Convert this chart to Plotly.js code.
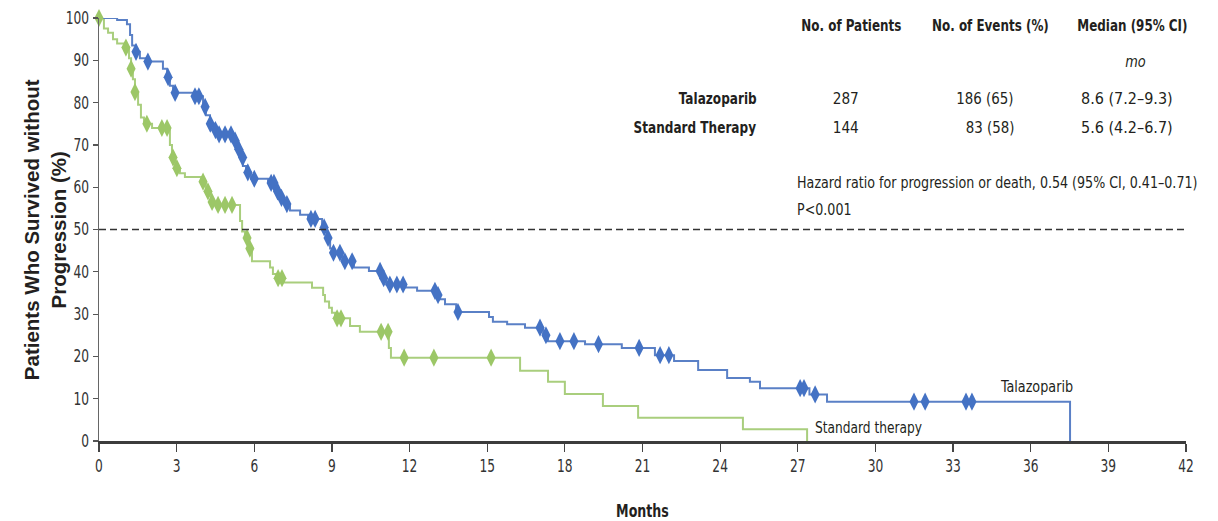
<!DOCTYPE html>
<html>
<head>
<meta charset="utf-8">
<script src="https://cdn.plot.ly/plotly-3.0.1.min.js"></script>
<style>
  html, body { margin: 0; padding: 0; background: #fff; }
  #chart { width: 1218px; height: 521px; }
</style>
</head>
<body>
<div id="chart"></div>
<script>
// Kaplan-Meier progression-free survival, Talazoparib vs standard therapy
const talaTime = [0, 0.70, 1.08, 1.20, 1.28, 1.43, 1.58, 1.82, 2.47, 2.63, 2.74, 2.86, 3.63, 4.02, 4.13, 4.29, 4.44, 4.60,
  5.20, 5.33, 5.45, 5.56, 5.68, 5.87, 6.53, 6.84, 7.00, 7.15, 7.38, 7.77, 8.08, 8.62, 8.80, 8.93, 9.04, 9.40, 9.85,
  10.43, 10.94, 11.10, 11.85, 12.29, 13.00, 13.15, 13.37, 13.80, 15.07, 15.22, 15.77, 16.46, 17.16, 17.35, 18.78,
  20.20, 21.48, 22.22, 23.15, 24.27, 25.15, 25.54, 27.45, 28.13, 37.52];
const talaSurv = [100, 99.5, 98.5, 96, 93.5, 92, 90.5, 89.7, 88, 86, 84, 82.3, 81.5, 79, 77, 75, 73.5, 72.5,
  71, 69, 67, 65, 63.5, 62, 61, 59, 57.5, 56, 54.5, 53.5, 52.5, 50.5, 48, 45.5, 44.5, 42.5, 41,
  40.2, 38.5, 37, 36.3, 35.5, 34.5, 33.5, 32.3, 30.5, 29.3, 28.2, 27.6, 26.8, 25, 23.6, 22.9,
  22.0, 20.3, 18.9, 16.8, 14.9, 14.0, 12.5, 11.0, 9.3, 0];
const talaCensored = [1.43, 1.89, 2.67, 2.94, 3.71, 3.86, 4.10, 4.30, 4.50, 4.64, 4.87, 5.10, 5.26, 5.40, 5.55, 5.75,
  6.00, 6.65, 6.76, 6.90, 7.05, 7.26, 8.19, 8.35, 8.70, 8.85, 9.06, 9.31, 9.50, 9.78, 10.86, 11.00, 11.24, 11.51,
  11.75, 12.98, 13.10, 13.87, 17.04, 17.27, 17.81, 18.35, 19.30, 20.87, 21.68, 22.02, 27.09, 27.24, 27.67,
  31.49, 31.92, 33.50, 33.73];

const stdTime = [0, 0.19, 0.35, 0.54, 0.70, 0.97, 1.16, 1.24, 1.31, 1.39, 1.51, 1.62, 1.74, 2.05, 2.74, 2.82, 2.94,
  3.13, 3.32, 3.94, 4.13, 4.33, 4.48, 5.45, 5.53, 5.64, 5.80, 5.91, 6.61, 6.72, 6.84, 7.15, 8.23, 8.66, 8.73, 8.89,
  9.00, 9.12, 9.70, 10.08, 11.20, 11.28, 16.27, 17.35, 18.00, 19.47, 20.83, 24.88, 27.36];
const stdSurv = [100, 97.5, 96.5, 95, 94, 93, 90.5, 88, 85.5, 82.5, 79.5, 76.5, 75, 74, 70, 67, 64.5,
  63.3, 62.4, 61.3, 59, 56.5, 55.8, 52, 49.5, 48, 45.5, 42.5, 41, 39.5, 38.5, 37.5, 36.2, 34.5, 33, 31.5,
  30.3, 29, 27.2, 25.8, 22, 19.7, 16.6, 14.0, 11.1, 8.3, 5.5, 2.8, 0];
const stdCensored = [0, 1.04, 1.24, 1.39, 1.85, 2.43, 2.63, 2.86, 3.01, 4.02, 4.21, 4.37, 4.60, 4.87, 5.14,
  5.72, 5.83, 6.92, 7.07, 9.20, 9.35, 10.90, 11.17, 11.79, 12.94, 15.15];

const xTicks = [0, 3, 6, 9, 12, 15, 18, 21, 24, 27, 30, 33, 36, 39, 42];
const yTicks = [0, 10, 20, 30, 40, 50, 60, 70, 80, 90, 100];

// Summary table
const groups = ['Talazoparib', 'Standard Therapy'];
const patients = ['287', '144'];
const events = ['186 (65)', '83 (58)'];
const medians = ['8.6 (7.2–9.3)', '5.6 (4.2–6.7)'];
const tableHeaders = ['No. of Patients', 'No. of Events (%)', 'Median (95% CI)'];
const hazardText = 'Hazard ratio for progression or death, 0.54 (95% CI, 0.41–0.71)';
const pText = 'P<0.001';

// survival level of a step curve at time t
function levelAt(times, surv, t) {
  let v = surv[0];
  for (let i = 0; i < times.length; i++) {
    if (times[i] <= t) v = surv[i]; else break;
  }
  return v;
}

const BLUE_LINE = '#5a80c6', BLUE_MARK = '#4472c4';
const GREEN_LINE = '#a9ce7d', GREEN_MARK = '#9cc767';
const NARROW = '"Liberation Sans Narrow", "DejaVu Sans Condensed", "Arial Narrow", sans-serif';
const TEXT = '#231f20';

const traces = [
  { x: stdTime, y: stdSurv, mode: 'lines', line: { shape: 'hv', color: GREEN_LINE, width: 2 }, hoverinfo: 'skip' },
  { x: talaTime, y: talaSurv, mode: 'lines', line: { shape: 'hv', color: BLUE_LINE, width: 2 }, hoverinfo: 'skip' },
  { x: stdCensored, y: stdCensored.map(t => levelAt(stdTime, stdSurv, t)), mode: 'markers',
    marker: { symbol: 'diamond-tall', size: 13, color: GREEN_MARK }, cliponaxis: false },
  { x: talaCensored, y: talaCensored.map(t => levelAt(talaTime, talaSurv, t)), mode: 'markers',
    marker: { symbol: 'diamond-tall', size: 13, color: BLUE_MARK }, cliponaxis: false }
];

// annotations; squash[i] narrows the i-th text horizontally (condensed typeface look)
const ann = [];
const squash = [];
function addText(a, sx) { a.showarrow = false; ann.push(a); squash.push(sx || null); }

const hdrX = [29.07, 34.43, 39.95];
tableHeaders.forEach((h, i) => addText({ x: hdrX[i], y: 98.3, text: h, xanchor: 'center', yanchor: 'middle',
  font: { family: NARROW, size: 16, color: TEXT, weight: 'bold' } }, 0.83));
addText({ x: 40.04, y: 89.6, text: '<i>mo</i>', xanchor: 'center', yanchor: 'middle', font: { family: NARROW, size: 16, color: TEXT } }, 0.9);
const rowY = [80.9, 74.2];
groups.forEach((g, i) => {
  addText({ x: 25.5, y: rowY[i], text: g, xanchor: 'right', yanchor: 'middle', font: { family: NARROW, size: 16, color: TEXT, weight: 'bold' } }, 0.84);
  addText({ x: 28.86, y: rowY[i], text: patients[i], xanchor: 'center', yanchor: 'middle', font: { family: NARROW, size: 16, color: TEXT } }, 0.95);
  addText({ x: 35.44, y: rowY[i], text: events[i], xanchor: 'right', yanchor: 'middle', font: { family: NARROW, size: 16, color: TEXT } }, 0.93);
  addText({ x: 39.72, y: rowY[i], text: medians[i], xanchor: 'center', yanchor: 'middle', font: { family: NARROW, size: 16, color: TEXT } }, 1.0);
});
addText({ x: 26.9, y: 61.2, text: hazardText, xanchor: 'left', yanchor: 'middle', font: { family: NARROW, size: 16, color: TEXT } }, 0.88);
addText({ x: 26.9, y: 54.8, text: pText, xanchor: 'left', yanchor: 'middle', font: { family: NARROW, size: 16, color: TEXT } }, 0.88);
// curve labels
addText({ x: 34.74, y: 13.0, text: 'Talazoparib', xanchor: 'left', yanchor: 'middle', font: { family: NARROW, size: 16, color: TEXT } }, 0.89);
addText({ x: 27.59, y: 3.3, text: 'Standard therapy', xanchor: 'left', yanchor: 'middle', font: { family: NARROW, size: 16, color: TEXT } }, 0.85);
// y-axis title
addText({ xref: 'paper', yref: 'paper', x: -0.05, y: 0.5, textangle: -90, xanchor: 'center', yanchor: 'middle',
  text: 'Patients Who Survived without<br>Progression (%)',
  font: { family: '"Liberation Sans", Arial, sans-serif', size: 20.5, color: TEXT, weight: 'bold' } });

const layout = {
  width: 1218, height: 521,
  margin: { l: 99, r: 32, t: 18, b: 80, pad: 0 },
  paper_bgcolor: '#fff', plot_bgcolor: '#fff',
  showlegend: false,
  xaxis: {
    range: [0, 42], tickvals: xTicks, ticktext: xTicks.map(String),
    showgrid: false, zeroline: false, showline: true, linecolor: '#3c3c3c', linewidth: 2.5,
    ticks: 'outside', ticklen: 8, tickwidth: 1.2, tickcolor: '#444',
    tickfont: { family: NARROW, size: 17, color: '#333' },
    title: { text: 'Months', font: { family: NARROW, size: 18, color: TEXT, weight: 'bold' }, standoff: 30 }
  },
  yaxis: {
    range: [0, 100], tickvals: yTicks, ticktext: yTicks.map(String),
    showgrid: false, zeroline: false, showline: true, linecolor: '#666', linewidth: 1.5,
    ticks: 'outside', ticklen: 5, tickwidth: 1.2, tickcolor: '#555',
    tickfont: { family: NARROW, size: 17, color: '#333' }
  },
  shapes: [
    { type: 'line', xref: 'paper', x0: 0, x1: 1, yref: 'y', y0: 50, y1: 50,
      line: { color: '#333', width: 1.5, dash: '7px,4px' } }
  ],
  annotations: ann
};

// narrow an svg text element horizontally around its own x anchor,
// keeping whatever transform the library already placed on it
function narrow(el, sx) {
  const cx = parseFloat(el.getAttribute('x')) || 0;
  const base = el.getAttribute('transform') || '';
  el.setAttribute('transform', (base + ' translate(' + cx + ',0) scale(' + sx + ',1) translate(' + (-cx) + ',0)').trim());
}

Plotly.newPlot('chart', traces, layout, { displayModeBar: false, staticPlot: true }).then(gd => {
  gd.querySelectorAll('.annotation').forEach(g => {
    const i = +g.getAttribute('data-index');
    const txt = g.querySelector('text.annotation-text');
    if (!squash[i] || !txt) return;
    // anchor the squash at the text's aligned edge
    const bb = txt.getBBox();
    const xa = ann[i].xanchor || 'center';
    const ox = xa === 'left' ? bb.x : xa === 'right' ? bb.x + bb.width : bb.x + bb.width / 2;
    const base = txt.getAttribute('transform') || '';
    txt.setAttribute('transform', (base + ' translate(' + ox + ',0) scale(' + squash[i] + ',1) translate(' + (-ox) + ',0)').trim());
  });
  gd.querySelectorAll('.xtick text').forEach(t => narrow(t, 0.8));
  gd.querySelectorAll('.ytick text').forEach(t => narrow(t, 0.8));
  gd.querySelectorAll('.g-xtitle text').forEach(t => narrow(t, 0.78));
});
</script>
</body>
</html>
